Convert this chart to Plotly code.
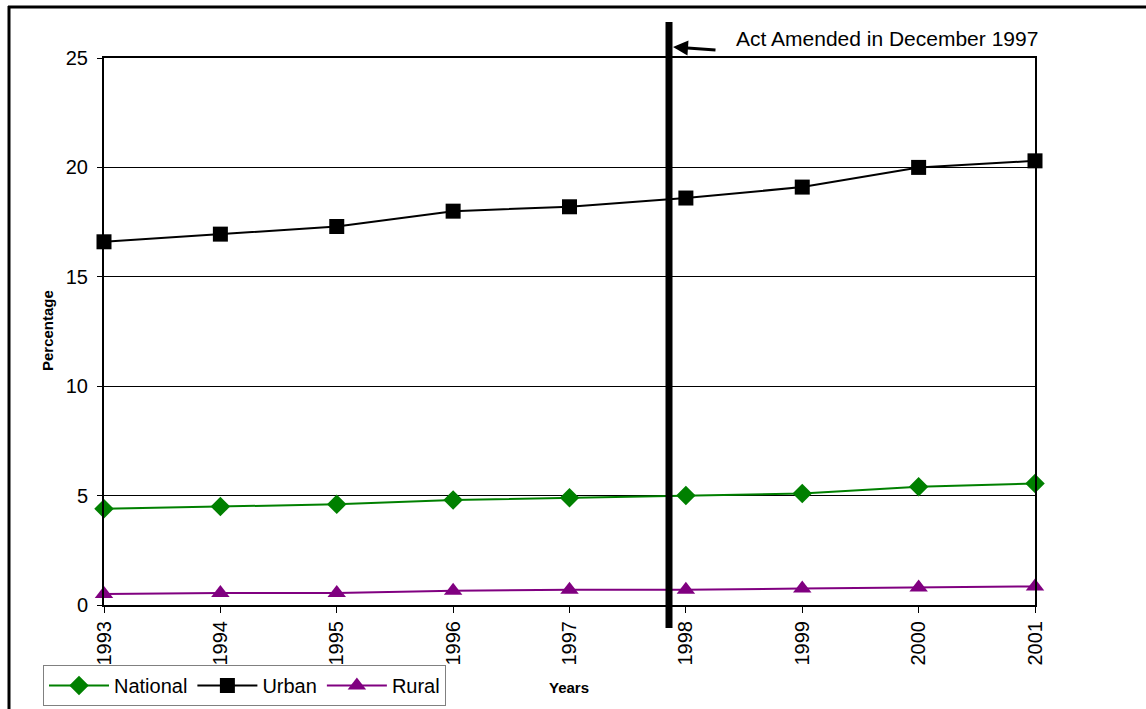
import plotly.graph_objects as go

# Share of population, by year
years = [1993, 1994, 1995, 1996, 1997, 1998, 1999, 2000, 2001]
national = [4.4, 4.5, 4.6, 4.8, 4.9, 5.0, 5.1, 5.4, 5.55]
urban = [16.6, 16.95, 17.3, 18.0, 18.2, 18.6, 19.1, 20.0, 20.3]
rural = [0.5, 0.55, 0.55, 0.65, 0.7, 0.7, 0.75, 0.8, 0.85]
y_ticks = [0, 5, 10, 15, 20, 25]

FONT = "Liberation Sans, Arial, sans-serif"

fig = go.Figure()
fig.add_trace(go.Scatter(
    x=years, y=national, name="National", mode="lines+markers",
    line=dict(color="#008000", width=2),
    marker=dict(symbol="diamond", size=15, color="#008000"),
    cliponaxis=False,
))
fig.add_trace(go.Scatter(
    x=years, y=urban, name="Urban", mode="lines+markers",
    line=dict(color="#000000", width=2),
    marker=dict(symbol="square", size=15, color="#000000"),
    cliponaxis=False,
))
fig.add_trace(go.Scatter(
    x=years, y=rural, name="Rural", mode="lines+markers",
    line=dict(color="#800080", width=2),
    marker=dict(symbol="triangle-up", size=16, color="#800080"),
    cliponaxis=False,
))

# plot area: x 104..1035 px, y 58..605 px
W, H = 1146, 709
L, R, T, B = 104, 1035, 58, 605
pw, ph = R - L, B - T


def px(xp):
    return (xp - L) / pw


def py(yp):
    return (B - yp) / ph


amend_x = 1993 + (669 - L) / (pw / 8)

fig.update_layout(
    width=W, height=H,
    margin=dict(l=L, r=W - R, t=T, b=H - B, autoexpand=False),
    paper_bgcolor="white", plot_bgcolor="white",
    font=dict(family=FONT, size=20, color="black"),
    showlegend=True,
    legend=dict(
        orientation="h", x=px(43), y=py(665), xanchor="left", yanchor="top",
        bordercolor="#808080", borderwidth=1, bgcolor="white",
        font=dict(family=FONT, size=20, color="black"),
        itemwidth=60, tracegroupgap=0,
    ),
    xaxis=dict(
        range=[1993, 2001], tickmode="array", tickvals=years,
        ticktext=[str(y) for y in years], tickangle=-90,
        ticks="outside", ticklen=6, tickcolor="black",
        showline=True, linecolor="black", linewidth=2, mirror=True,
        showgrid=False, zeroline=False,
        tickfont=dict(family=FONT, size=20),
    ),
    yaxis=dict(
        range=[0, 25], tickmode="array", tickvals=y_ticks,
        ticks="outside", ticklen=5, tickcolor="black",
        showline=True, linecolor="black", linewidth=2, mirror=True,
        showgrid=True, gridcolor="black", gridwidth=1, zeroline=False,
        ticklabelstandoff=5,
        tickfont=dict(family=FONT, size=20),
    ),
    shapes=[
        # outer frame (top and left edges)
        dict(type="line", xref="paper", yref="paper", x0=px(8), x1=px(W + 5),
             y0=py(7), y1=py(7), line=dict(color="black", width=3)),
        dict(type="line", xref="paper", yref="paper", x0=px(9), x1=px(9),
             y0=py(6), y1=py(H + 5), line=dict(color="black", width=3)),
        # amendment marker
        dict(type="line", xref="x", yref="paper", x0=amend_x, x1=amend_x,
             y0=py(628), y1=py(22), line=dict(color="black", width=7)),
    ],
    annotations=[
        dict(text="Act Amended in December 1997", xref="paper", yref="paper",
             x=px(734), y=py(38), xanchor="left", yanchor="middle",
             showarrow=False, font=dict(family=FONT, size=21)),
        dict(text="", xref="paper", yref="paper", x=px(673), y=py(47),
             ax=44, ay=3, showarrow=True, arrowhead=2, arrowsize=1,
             arrowwidth=3, arrowcolor="black"),
        dict(text="<b>Percentage</b>", xref="paper", yref="paper",
             x=px(47), y=py(331), textangle=-90, showarrow=False,
             xanchor="center", yanchor="middle", font=dict(family=FONT, size=15)),
        dict(text="<b>Years</b>", xref="paper", yref="paper",
             x=px(569), y=py(687), showarrow=False,
             xanchor="center", yanchor="middle", font=dict(family=FONT, size=15)),
    ],
)

fig.write_html("out.html")
